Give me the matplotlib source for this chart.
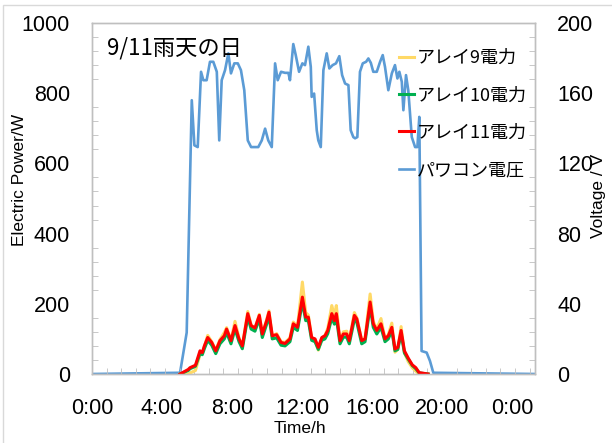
import matplotlib
matplotlib.use("Agg")
import matplotlib.pyplot as plt
from matplotlib.patches import Rectangle

plt.rcParams['font.family'] = ['Liberation Sans', 'Noto Sans CJK JP', 'DejaVu Sans']

# ---------------- data ----------------
title_text = "9/11雨天の日"
series_names = ["アレイ9電力", "アレイ10電力", "アレイ11電力", "パワコン電圧"]
x_tick_hours = [0, 4, 8, 12, 16, 20, 24]
x_tick_labels = ["0:00", "4:00", "8:00", "12:00", "16:00", "20:00", "0:00"]

# PV-inverter voltage (V) vs time (h)
volt_time = [0.00, 5.03, 5.41, 5.70, 5.85, 6.04, 6.23, 6.36, 6.55, 6.74, 6.93, 7.13, 7.27, 7.41,
             7.60, 7.79, 7.94, 8.13, 8.33, 8.51, 8.70, 8.90, 9.09, 9.50, 9.70, 9.89, 10.07,
             10.27, 10.46, 10.61, 10.80, 11.03, 11.22, 11.31, 11.50, 11.64, 11.83, 12.02,
             12.17, 12.36, 12.50, 12.55, 12.69, 12.84, 12.93, 13.07, 13.22, 13.41, 13.56,
             13.75, 13.94, 14.13, 14.29, 14.46, 14.65, 14.78, 14.93, 15.03, 15.16, 15.31,
             15.47, 15.66, 15.79, 15.93, 16.07, 16.27, 16.46, 16.61, 16.74, 16.93, 17.13,
             17.31, 17.45, 17.56, 17.70, 17.79, 17.94, 18.07, 18.27, 18.46, 18.59, 18.70,
             18.83, 19.12, 19.31, 19.50, 25.30]
volt_value = [0.0, 0.7, 23.6, 156.0, 130.3, 129.3, 172.2, 167.4, 167.4, 177.9, 177.9, 172.2, 133.1, 167.4,
              173.1, 182.7, 171.3, 177.0, 177.0, 173.1, 161.7, 133.1, 129.3, 129.3, 133.1, 139.8, 133.1,
              129.3, 177.0, 167.4, 172.2, 171.6, 171.6, 167.4, 188.0, 181.7, 172.2, 177.0,
              176.0, 186.5, 175.0, 157.9, 159.8, 138.9, 133.1, 129.3, 173.1, 182.7, 174.1,
              176.0, 177.0, 181.1, 170.3, 165.5, 164.6, 138.9, 135.0, 134.3, 135.0, 172.2,
              177.0, 177.9, 179.8, 177.3, 172.2, 172.2, 177.9, 181.7, 175.0, 161.7, 171.3,
              176.0, 168.4, 172.2, 166.5, 150.3, 170.3, 161.7, 135.0, 129.3, 129.3, 146.5,
              13.1, 12.2, 7.4, 0.7, 0.0]

# Array power (W) vs time (h)
power_time = [5.03, 5.50, 5.60, 5.91, 6.17, 6.30, 6.42, 6.61, 6.84, 7.07, 7.31, 7.56, 7.69, 7.94,
              8.17, 8.40, 8.59, 8.90, 9.09, 9.31, 9.56, 9.73, 9.98, 10.11, 10.30, 10.55, 10.80,
              11.03, 11.31, 11.50, 11.74, 12.02, 12.21, 12.36, 12.55, 12.74, 12.93, 13.13, 13.31,
              13.47, 13.70, 13.85, 13.96, 14.17, 14.36, 14.55, 14.70, 14.99, 15.13, 15.41, 15.60,
              15.89, 16.07, 16.27, 16.51, 16.74, 16.93, 17.13, 17.31, 17.47, 17.66, 17.85, 18.07,
              18.30, 18.50, 18.69, 19.20]
power_array9 = [0, 0, 3, 10, 55, 58, 78, 110, 92, 68, 98, 118, 132, 96,
                150, 102, 80, 178, 140, 128, 170, 112, 155, 180, 108, 115, 92,
                90, 103, 148, 135, 262, 175, 168, 102, 98, 68, 102, 110,
                130, 195, 165, 195, 92, 120, 122, 95, 175, 160, 95, 102,
                228, 150, 128, 158, 100, 112, 145, 62, 70, 135, 60, 35,
                18, 8, 0, 0]
power_array10 = [0, 10, 15, 22, 58, 55, 72, 96, 82, 58, 86, 100, 118, 86,
                 128, 92, 72, 162, 128, 122, 157, 104, 142, 166, 100, 103, 82,
                 80, 92, 133, 124, 205, 152, 152, 96, 92, 70, 96, 100,
                 115, 160, 142, 160, 86, 105, 105, 86, 155, 147, 86, 92,
                 192, 133, 114, 133, 92, 100, 124, 66, 70, 115, 60, 42,
                 24, 15, 3, 0]
power_array11 = [0, 13, 18, 25, 66, 61, 80, 104, 90, 66, 95, 109, 128, 95,
                 138, 100, 80, 172, 138, 131, 167, 114, 152, 176, 109, 112, 90,
                 87, 100, 143, 133, 219, 162, 162, 104, 100, 76, 104, 109,
                 124, 172, 152, 172, 95, 114, 114, 95, 167, 157, 95, 100,
                 205, 143, 124, 143, 100, 109, 133, 71, 76, 124, 66, 45,
                 26, 18, 4, 0]

# ---------------- figure ----------------
fig = plt.figure(figsize=(6.12, 4.43), dpi=100)
fig.patches.append(Rectangle((3 / 612, -0.1), 1.2, (443 - 5) / 443 + 0.1,
                             transform=fig.transFigure, fill=False,
                             edgecolor='#d9d9d9', lw=1.0))

ax = fig.add_axes([92 / 612, (443 - 374) / 443, (535 - 92) / 612, (374 - 23) / 443])
ax2 = ax.twinx()
ax.set_zorder(ax2.get_zorder() + 1)
ax.patch.set_visible(False)

c9, c10, c11, cv = '#FFD966', '#00B050', '#FF0000', '#5B9BD5'

lv, = ax2.plot(volt_time, volt_value, color=cv, lw=1.9, label=series_names[3])
l9, = ax.plot(power_time, power_array9, color=c9, lw=2.2, label=series_names[0])
l10, = ax.plot(power_time, power_array10, color=c10, lw=2.2, label=series_names[1])
l11, = ax.plot(power_time, power_array11, color=c11, lw=2.2, label=series_names[2])

ax.set_xlim(0, 25.31)
ax.set_ylim(0, 1000)
ax2.set_ylim(0, 200)

spine_c = '#bfbfbf'
for a in (ax, ax2):
    for s in a.spines.values():
        s.set_color(spine_c)
        s.set_linewidth(1.0)

ax.set_xticks(x_tick_hours)
ax.set_xticklabels(x_tick_labels)
ax.set_xticks([i * (50 / 60) for i in range(1, 31)], minor=True)
ax.set_yticks(range(0, 1001, 200))
ax.set_yticks(range(0, 1001, 40), minor=True)
ax2.set_yticks(range(0, 201, 40))
ax2.set_yticks(range(0, 201, 8), minor=True)

tick_fs = 15.5
ax.tick_params(axis='x', which='major', length=0, pad=17, labelsize=tick_fs)
ax.tick_params(axis='x', which='minor', direction='in', length=4, color=spine_c)
ax.tick_params(axis='y', which='major', direction='in', length=0, pad=16, labelsize=tick_fs)
ax.tick_params(axis='y', which='minor', direction='in', length=4, color=spine_c)
ax2.tick_params(axis='y', which='major', direction='in', length=0, pad=16, labelsize=tick_fs)
ax2.tick_params(axis='y', which='minor', direction='in', length=4, color=spine_c)

ax.set_ylabel("Electric Power/W", fontsize=12.5)
ax.yaxis.set_label_coords(-(92 - 27) / 443, (374 - 180) / 351)
ax2.set_ylabel("Voltage / V", fontsize=12.5)
ax2.yaxis.set_label_coords(1 + 56 / 443, (374 - 196) / 351)
ax.set_xlabel("Time/h", fontsize=12.5)
ax.xaxis.set_label_coords((300 - 92) / 443, -(421 - 374) / 351)

ax.text(15 / 443, (374 - 48) / 351, title_text, transform=ax.transAxes, fontsize=16,
        family=['Noto Sans CJK JP', 'DejaVu Sans'], va='center', ha='left')

leg = ax.legend(handles=[l9, l10, l11, lv], loc='upper left',
                bbox_to_anchor=((399 - 92) / 443, (374 - 49) / 351), frameon=False,
                prop={'family': ['Noto Sans CJK JP'], 'size': 13},
                handlelength=0.85, handletextpad=0.15, labelspacing=1.07,
                borderaxespad=0.0, borderpad=0.0)

fig.savefig("out.png", dpi=100)
